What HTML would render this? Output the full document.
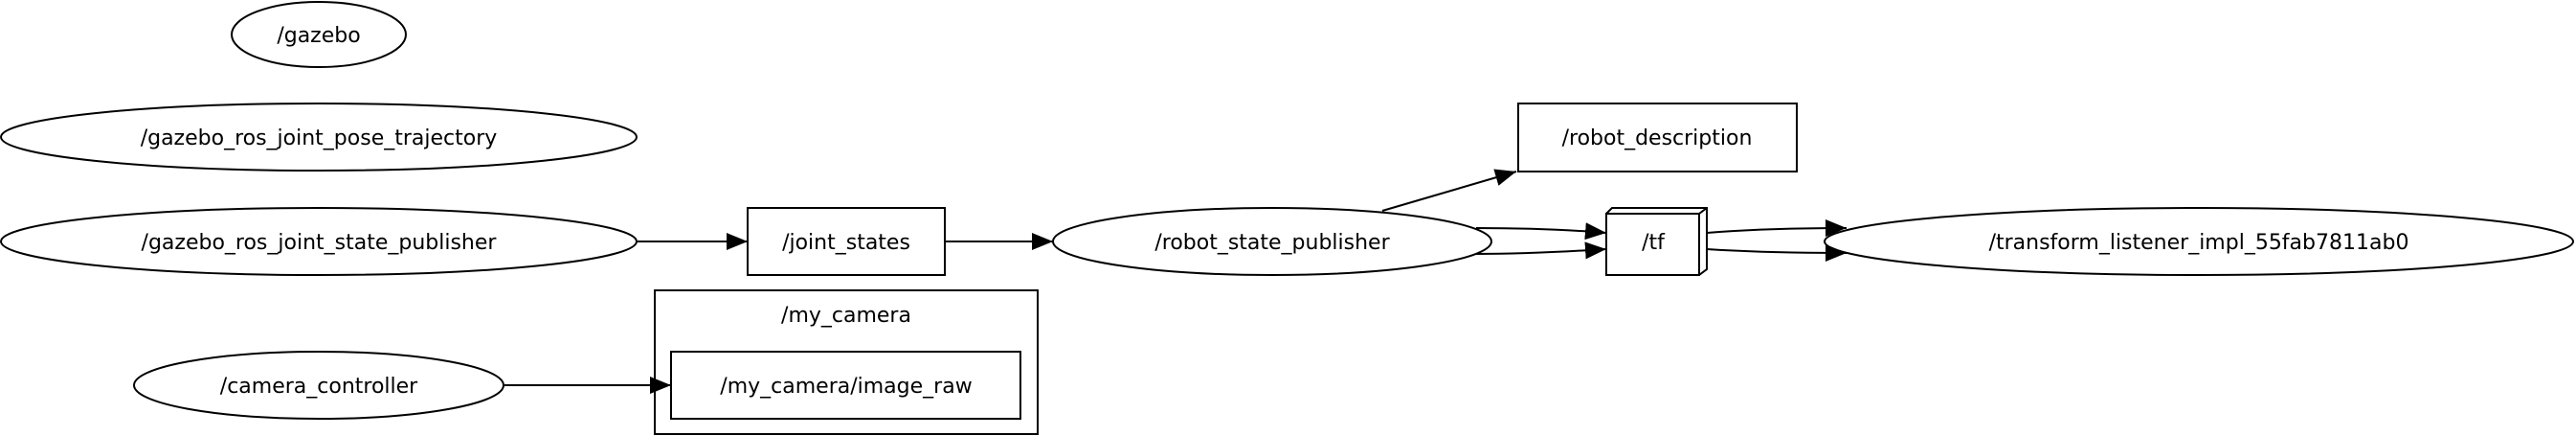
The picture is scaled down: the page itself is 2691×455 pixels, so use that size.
<!DOCTYPE html>
<html><head><meta charset="utf-8"><style>html,body{margin:0;padding:0;background:#fff}svg{display:block}</style></head>
<body>
<svg width="2691" height="455" viewBox="0 0 2691 455" xmlns="http://www.w3.org/2000/svg" font-family="DejaVu Sans, Liberation Sans, sans-serif" font-size="22">
<defs><marker id="a" markerWidth="10" markerHeight="8" refX="10" refY="4" orient="auto" markerUnits="userSpaceOnUse" viewBox="0 0 10 8"><path d="M0,0L10,4L0,8z" fill="#000"/></marker>
<marker id="b" viewBox="0 0 10 10" refX="10" refY="5" markerWidth="22" markerHeight="18" orient="auto" markerUnits="userSpaceOnUse" preserveAspectRatio="none"><path d="M0,0L10,5L0,10z" fill="#000"/></marker></defs>
<g fill="none" stroke="#000" stroke-width="2">
<ellipse cx="333" cy="36" rx="91" ry="34"/>
<ellipse cx="333" cy="143" rx="332" ry="35"/>
<ellipse cx="333" cy="252" rx="332" ry="35"/>
<ellipse cx="333" cy="402" rx="193" ry="35"/>
<rect x="781" y="217" width="206" height="70"/>
<rect x="684" y="303" width="400" height="150"/>
<rect x="701" y="367" width="365" height="70"/>
<ellipse cx="1329" cy="252" rx="229" ry="35"/>
<rect x="1586" y="108" width="291" height="71"/>
<path d="M1678,223H1775V287H1678Z M1678,223L1684,217H1783V281L1775,287 M1775,223L1783,217"/>
<ellipse cx="2297" cy="252" rx="391" ry="35"/>
<path d="M666,252H781" marker-end="url(#b)"/>
<path d="M987,252H1100" marker-end="url(#b)"/>
<path d="M527,402H701" marker-end="url(#b)"/>
<path d="M1444,220L1584,179" marker-end="url(#b)"/>
<path d="M1542,238C1590,238 1630,239 1678,243" marker-end="url(#b)"/>
<path d="M1542,265C1590,265 1630,263 1678,260" marker-end="url(#b)"/>
<path d="M1783,243C1830,239 1880,238 1929,238" marker-end="url(#b)"/>
<path d="M1783,260C1830,263 1880,264 1929,264" marker-end="url(#b)"/>
</g>
<g text-anchor="middle" fill="#000">
<text x="333" y="44">/gazebo</text>
<text x="333" y="151">/gazebo_ros_joint_pose_trajectory</text>
<text x="333" y="260">/gazebo_ros_joint_state_publisher</text>
<text x="333" y="410">/camera_controller</text>
<text x="884" y="260">/joint_states</text>
<text x="884" y="336">/my_camera</text>
<text x="884" y="410">/my_camera/image_raw</text>
<text x="1329" y="260">/robot_state_publisher</text>
<text x="1731" y="151">/robot_description</text>
<text x="1727" y="260">/tf</text>
<text x="2297" y="260">/transform_listener_impl_55fab7811ab0</text>
</g>
</svg>
</body></html>
